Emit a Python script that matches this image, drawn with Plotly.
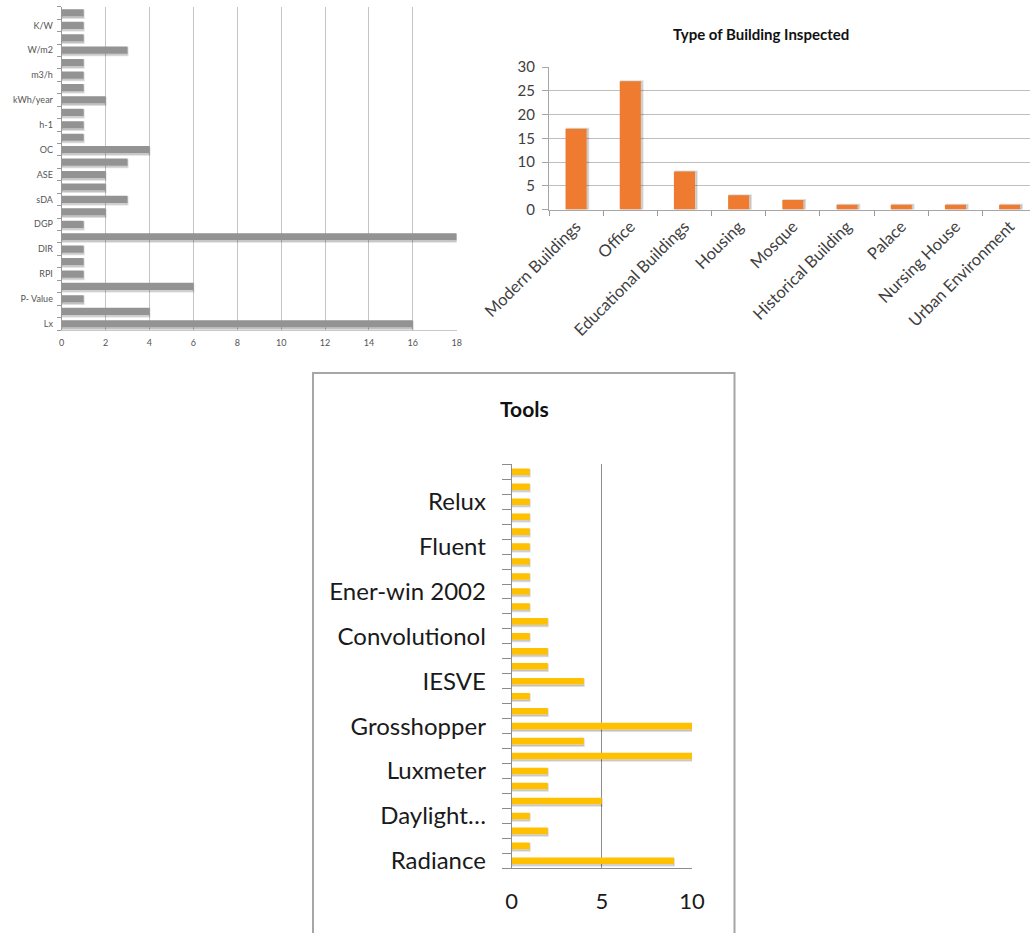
import plotly.graph_objects as go

W, H = 1030, 933

# --- Units reported (left chart), counts listed bottom to top ---
unit_labels = ["Lx", "P- Value", "RPI", "DIR", "DGP", "sDA", "ASE",
               "OC", "h-1", "kWh/year", "m3/h", "W/m2", "K/W"]
unit_counts = [16, 4, 1, 6, 1, 1, 1, 18, 1, 2, 3, 2, 2,
               3, 4, 1, 1, 1, 2, 1, 1, 1, 3, 1, 1, 1]

# --- Type of building inspected (top right chart) ---
building_types = ["Modern Buildings", "Office", "Educational Buildings", "Housing",
                  "Mosque", "Historical Building", "Palace", "Nursing House",
                  "Urban Environment"]
building_counts = [17, 27, 8, 3, 2, 1, 1, 1, 1]

# --- Tools (bottom chart), counts listed bottom to top ---
tool_labels = ["Radiance", "Daylight…", "Luxmeter", "Grosshopper", "IESVE",
               "Convolutionol", "Ener-win 2002", "Fluent", "Relux"]
tool_counts = [9, 1, 2, 1, 5, 2, 2, 10, 4, 10, 2, 1, 4, 2, 2, 1, 2,
               1, 1, 1, 1, 1, 1, 1, 1, 1, 1]


def fx(px):
    return px / W


def fy(py):
    return 1 - py / H


FONT = "Lato, 'Open Sans', sans-serif"
SHADOW = "rgba(0,0,0,0.13)"

unit_pos = list(range(len(unit_counts)))
tool_pos = list(range(len(tool_counts)))

fig = go.Figure()


def bar_pair(values, cats, color, width, axes, horizontal, drop):
    """Soft drop shadow underneath, then the bar itself."""
    xa, ya = axes
    kw = dict(xaxis=xa, yaxis=ya, showlegend=False)
    if horizontal:
        fig.add_trace(go.Bar(x=values, y=cats, orientation="h", width=width,
                             offset=-width / 2 - drop,
                             marker=dict(color=SHADOW, line=dict(color=SHADOW, width=2)),
                             hoverinfo="skip", **kw))
        fig.add_trace(go.Bar(x=values, y=cats, orientation="h", width=width,
                             offset=-width / 2, marker=dict(color=color, line=dict(width=0)),
                             **kw))
    else:
        fig.add_trace(go.Bar(x=cats, y=values, width=width, offset=-width / 2 + drop,
                             marker=dict(color=SHADOW, line=dict(color=SHADOW, width=2)),
                             hoverinfo="skip", **kw))
        fig.add_trace(go.Bar(x=cats, y=values, width=width, offset=-width / 2,
                             marker=dict(color=color, line=dict(width=0)), **kw))


bar_pair(unit_counts, unit_pos, "#939393", 0.58, ("x", "y"), True, 0.12)
bar_pair(building_counts, building_types, "#ee7b30", 0.39, ("x2", "y2"), False, 0.03)
bar_pair(tool_counts, tool_pos, "#ffc000", 0.44, ("x3", "y3"), True, 0.1)

fig.update_layout(
    width=W, height=H,
    margin=dict(l=0, r=0, t=0, b=0, autoexpand=False),
    paper_bgcolor="white", plot_bgcolor="white",
    font=dict(family=FONT, color="#404040"),
    barmode="overlay",
    # left chart
    xaxis=dict(
        domain=[fx(61.7), fx(456.7)], anchor="y", range=[0, 18],
        tickvals=list(range(0, 19, 2)), showgrid=True, gridcolor="#c4c4c4",
        gridwidth=1, zeroline=False, showline=True, linecolor="#c8c8c8",
        ticks="", tickfont=dict(size=9, color="#555555"),
        ticklabelstandoff=4, automargin=False,
    ),
    yaxis=dict(
        domain=[fy(330), fy(6.7)], anchor="x", range=[-0.5, len(unit_counts) - 0.5],
        tickvals=unit_pos[::2], ticktext=unit_labels, ticks="",
        minor=dict(tick0=-0.5, dtick=1, ticks="outside", ticklen=4,
                   tickcolor="#9a9a9a", showgrid=False),
        showgrid=False, zeroline=False, showline=True, linecolor="#9a9a9a",
        tickfont=dict(size=9, color="#555555"), ticklabelstandoff=6,
        automargin=False,
    ),
    # top right chart
    xaxis2=dict(
        domain=[fx(549), 1.0], anchor="y2", range=[-0.5, 8.375],
        type="category", tickson="boundaries", ticks="outside", ticklen=5,
        tickcolor="#9a9a9a", showline=True, linecolor="#a6a6a6",
        showgrid=False, tickangle=-45, tickfont=dict(size=16.5, color="#404040"),
        automargin=False,
    ),
    yaxis2=dict(
        domain=[fy(209.5), fy(67)], anchor="x2", range=[0, 30],
        tickvals=list(range(0, 31, 5)), ticks="outside", ticklen=6,
        tickcolor="#a6a6a6", showline=True, linecolor="#a6a6a6",
        showgrid=True, gridcolor="#bfbfbf", gridwidth=1.2, zeroline=False,
        tickfont=dict(size=15, color="#404040"), ticklabelstandoff=4,
        automargin=False,
    ),
    # bottom chart
    xaxis3=dict(
        domain=[fx(511.7), fx(692)], anchor="y3", range=[0, 10],
        tickvals=[0, 5, 10], showgrid=True, gridcolor="#8c8c8c", gridwidth=1,
        zeroline=False, showline=True, linecolor="#8c8c8c", ticks="",
        tickfont=dict(size=22, color="#1a1a1a"), ticklabelstandoff=13,
        automargin=False,
    ),
    yaxis3=dict(
        domain=[fy(868.3), fy(464.3)], anchor="x3",
        range=[-0.5, len(tool_counts) - 0.5],
        tickvals=tool_pos[::3], ticktext=tool_labels, ticks="",
        minor=dict(tick0=-0.5, dtick=1, ticks="outside", ticklen=9,
                   tickcolor="#8c8c8c", showgrid=False),
        showgrid=False, zeroline=False, showline=True, linecolor="#8c8c8c",
        tickfont=dict(size=24, color="#1a1a1a"), ticklabelstandoff=20,
        automargin=False,
    ),
    shapes=[dict(
        type="rect", xref="paper", yref="paper",
        x0=fx(313), x1=fx(734.5), y0=fy(960), y1=fy(373),
        line=dict(color="#a6a6a6", width=2), fillcolor="rgba(0,0,0,0)",
        layer="below",
    )],
    annotations=[
        dict(text="<b>Type of Building Inspected</b>", x=fx(761), y=fy(34),
             xref="paper", yref="paper", showarrow=False,
             xanchor="center", yanchor="middle",
             font=dict(size=15, color="#111111", family=FONT)),
        dict(text="<b>Tools</b>", x=fx(524), y=fy(408),
             xref="paper", yref="paper", showarrow=False,
             xanchor="center", yanchor="middle",
             font=dict(size=21, color="#111111", family=FONT)),
    ],
)

fig.write_html("out.html")
